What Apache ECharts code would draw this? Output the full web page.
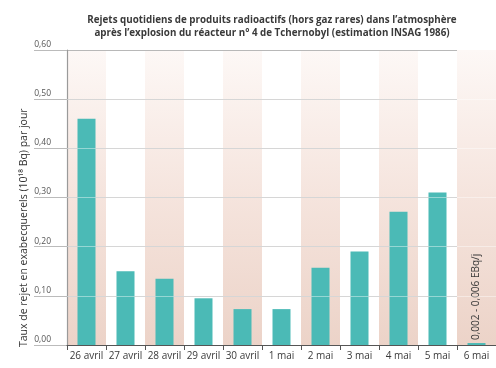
<!DOCTYPE html>
<html>
<head>
<meta charset="utf-8">
<script src="https://cdn.jsdelivr.net/npm/echarts@6/dist/echarts.min.js"></script>
<style>
  html, body { margin: 0; padding: 0; background: #ffffff; }
  #chart { width: 496px; height: 368px; }
</style>
</head>
<body>
<div id="chart"></div>
<script>
// Daily releases (EBq/day), 26 April - 6 May 1986
const categories = ['26 avril', '27 avril', '28 avril', '29 avril', '30 avril', '1 mai', '2 mai', '3 mai', '4 mai', '5 mai', '6 mai'];
const releaseValues = [0.46, 0.15, 0.135, 0.095, 0.073, 0.073, 0.157, 0.19, 0.271, 0.31, 0.004];
const lastDayNote = '0,002 - 0,006 EBq/j';
const yMin = 0;
const yMax = 0.6;
const yStep = 0.1;
const gridValues = [0.1, 0.2, 0.3, 0.4, 0.5];

const titleLines = [
  'Rejets quotidiens de produits radioactifs (hors gaz rares) dans l\u2019atmosph\u00e8re',
  'apr\u00e8s l\u2019explosion du r\u00e9acteur n\u00b0 4 de Tchernobyl (estimation INSAG 1986)'
];
const yAxisTitle = 'Taux de rejet en exabecquerels (10\u00b9\u2078 Bq) par jour';

const FONT = '"Open Sans", Lato, sans-serif';
const TEAL = '#4bbab6';

// Shaded columns on every other day; the last one sits above the grey grid
const bandFill = new echarts.graphic.LinearGradient(0, 0, 0, 1, [
  { offset: 0, color: '#fdf8f6' },
  { offset: 0.5, color: '#f5e4dd' },
  { offset: 1, color: '#ecd3c8' }
]);
const lastIndex = categories.length - 1;
const bandsLow = categories.map((c, i) => (i % 2 === 0 && i !== lastIndex) ? yMax : '-');
const bandsHigh = categories.map((c, i) => (i === lastIndex) ? yMax : '-');

const chart = echarts.init(document.getElementById('chart'), null, { renderer: 'canvas' });

chart.setOption({
  animation: false,
  backgroundColor: '#ffffff',
  title: {
    text: titleLines.join('\n'),
    left: 267,
    textAlign: 'center',
    top: 9,
    textStyle: {
      fontFamily: FONT,
      fontSize: 9.8,
      fontWeight: 'bold',
      color: '#3a3a3a',
      lineHeight: 13
    }
  },
  grid: { left: 67, right: -7, top: 50, bottom: 23, containLabel: false },
  xAxis: [
    {
      type: 'category',
      data: categories,
      boundaryGap: true,
      axisLine: { show: true, lineStyle: { color: '#555', width: 1 } },
      axisTick: { show: true, alignWithLabel: false, length: 5, lineStyle: { color: '#555' } },
      axisLabel: { color: '#3a3a3a', fontFamily: FONT, fontSize: 10, margin: 6, interval: 0 },
      splitLine: { show: false },
      z: 6
    },
    {
      type: 'category',
      data: categories,
      show: false
    }
  ],
  yAxis: {
    type: 'value',
    min: yMin,
    max: yMax,
    interval: yStep,
    axisLine: { show: true, lineStyle: { color: '#9a9a9a', width: 1.2 } },
    axisTick: { show: true, length: 33, lineStyle: { color: '#bbbbbb' } },
    axisLabel: {
      color: '#555',
      fontFamily: FONT,
      fontSize: 8.5,
      margin: 16,
      align: 'right',
      verticalAlign: 'bottom',
      padding: [0, 0, 1, 0],
      formatter: v => v.toFixed(2).replace('.', ',')
    },
    splitLine: { show: true, lineStyle: { color: '#b8b8b8', width: 1 } }
  },
  graphic: [
    {
      type: 'text',
      x: 24,
      y: 347,
      rotation: Math.PI / 2,
      style: {
        text: yAxisTitle,
        fontFamily: FONT,
        fontSize: 10.5,
        fill: '#333',
        textAlign: 'left',
        textVerticalAlign: 'middle'
      }
    }
  ],
  series: [
    {
      name: 'bandsLow',
      type: 'bar',
      xAxisIndex: 1,
      data: bandsLow,
      barWidth: '100%',
      barGap: '-100%',
      silent: true,
      z: -1,
      itemStyle: { color: bandFill }
    },
    {
      name: 'bandsHigh',
      type: 'bar',
      xAxisIndex: 1,
      data: bandsHigh,
      barWidth: '100%',
      barGap: '-100%',
      silent: true,
      z: 1,
      itemStyle: { color: bandFill }
    },
    {
      name: 'Rejets',
      type: 'bar',
      xAxisIndex: 0,
      data: releaseValues.map((v, i) => i === lastIndex ? {
        value: v,
        label: {
          show: true,
          position: 'top',
          rotate: 90,
          align: 'left',
          verticalAlign: 'middle',
          distance: 3,
          fontFamily: FONT,
          fontSize: 10,
          color: '#3a3a3a',
          formatter: lastDayNote
        }
      } : v),
      barWidth: 18,
      z: 2,
      itemStyle: { color: TEAL },
      markLine: {
        silent: true,
        symbol: 'none',
        z: 5,
        label: { show: false },
        lineStyle: { color: 'rgba(255,255,255,0.42)', type: 'solid', width: 1 },
        data: gridValues.map(v => ({ yAxis: v }))
      }
    }
  ]
});
</script>
</body>
</html>
